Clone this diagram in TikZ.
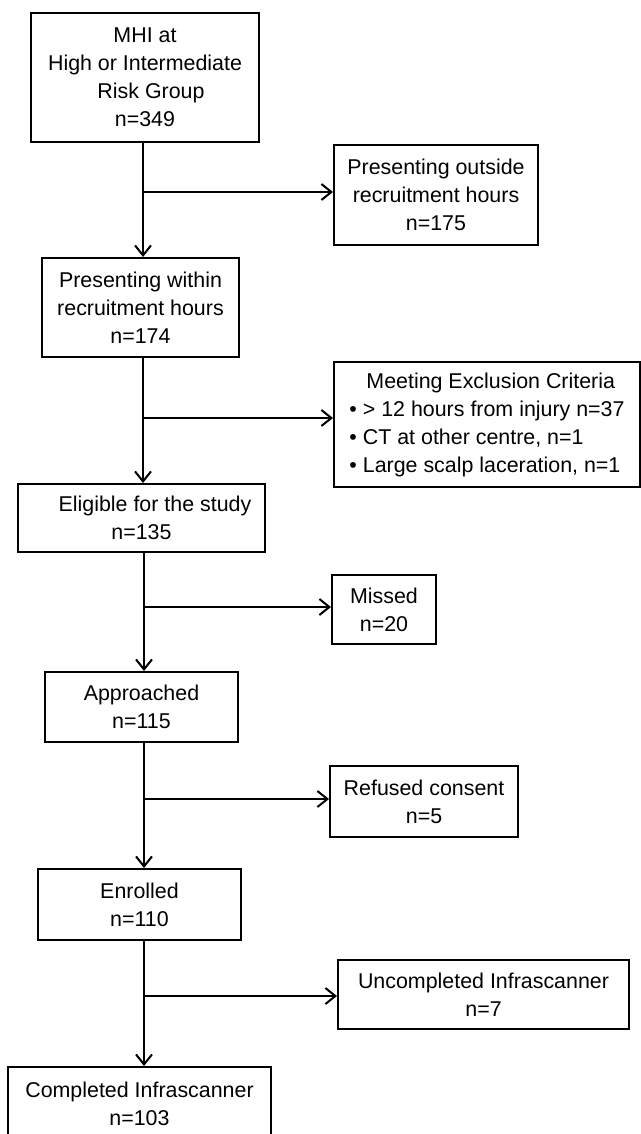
\documentclass[tikz,border=0pt]{standalone}
\usepackage{fontspec}
\setmainfont{Liberation Sans}
\usetikzlibrary{arrows.meta}

\begin{document}
\begin{tikzpicture}[x = 0.5pt, y = -0.5pt,
		font = \fontsize{10.7}{14}\selectfont,
		box/.style = {draw, line width = 1pt, align = center, inner sep = 0pt},
		flow/.style = {line width = 1pt, -{Straight Barb[length = 5pt, width = 8pt]}}]
		\useasboundingbox (0, 0) rectangle (641, 1134);
		% main column
		\node[box, minimum width = 114pt, minimum height = 64.5pt] (mhi) at (145, 77.5) {MHI at\\High or Intermediate\\\hspace*{6pt}Risk Group\\n=349};
		\node[box, minimum width = 98.5pt, minimum height = 49.5pt] (within) at (140.5, 307.5) {Presenting within\\recruitment hours\\n=174};
		\node[box, minimum width = 123.5pt, minimum height = 34pt] (elig) at (141.5, 518) {\hspace*{13.5pt}Eligible for the study\\n=135};
		\node[box, minimum width = 96.5pt, minimum height = 35pt] (appr) at (141.5, 707) {Approached\\n=115};
		\node[box, minimum width = 101.5pt, minimum height = 35.5pt] (enrol) at (139.5, 904.5) {Enrolled\\n=110};
		\node[box, minimum width = 131.5pt, minimum height = 36.5pt] (compl) at (139.5, 1103.5) {Completed Infrascanner\\n=103};
		% side boxes
		\node[box, minimum width = 102pt, minimum height = 50pt] (outside) at (436, 195) {Presenting outside\\recruitment hours\\n=175};
		\node[box, align = left, minimum width = 153pt, minimum height = 62.5pt] (excl) at (487, 424.5) {\hspace*{8.5pt}Meeting Exclusion Criteria\\• > 12 hours from injury n=37\\• CT at other centre, n=1\\• Large scalp laceration, n=1};
		\node[box, minimum width = 52pt, minimum height = 34.5pt] (missed) at (384, 609.5) {Missed\\n=20};
		\node[box, minimum width = 94pt, minimum height = 35.5pt] (refused) at (424, 801.5) {Refused consent\\n=5};
		\node[box, minimum width = 145.5pt, minimum height = 34.5pt] (uncompl) at (483.5, 994.5) {Uncompleted Infrascanner\\n=7};
		% split points on the column
		\coordinate (split1) at (143, 192);
		\coordinate (split2) at (143, 418);
		\coordinate (split3) at (144, 607);
		\coordinate (split4) at (144, 799);
		\coordinate (split5) at (144, 996);
		\foreach \a/\b/\s/\n in {mhi/within/outside/1, within/elig/excl/2, elig/appr/missed/3, appr/enrol/refused/4, enrol/compl/uncompl/5} {
			\draw[flow] (\a.south -| split\n) -- (\b.north -| split\n);
			\draw[flow] (split\n) -- (split\n -| \s.west);
		}
	\end{tikzpicture}
\end{document}
